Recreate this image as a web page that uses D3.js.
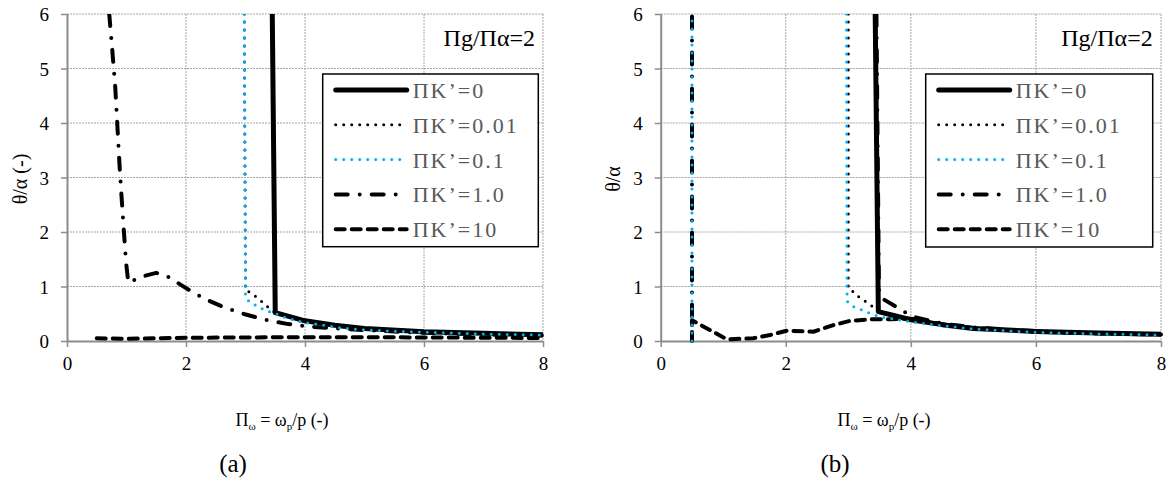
<!DOCTYPE html>
<html><head><meta charset="utf-8">
<script src="https://cdn.jsdelivr.net/npm/d3@7"></script>
<style>body{margin:0;background:#fff}svg{display:block}</style>
</head><body><svg id="c" width="1176" height="483" font-family="'Liberation Serif','Times New Roman',Times,serif"></svg>
<script>
// ---- data ----
const xTicks = [0, 2, 4, 6, 8];
const yTicks = [0, 1, 2, 3, 4, 5, 6];
const seriesNames = ["ΠK’=0", "ΠK’=0.01", "ΠK’=0.1", "ΠK’=1.0", "ΠK’=10"];
const panelLabels = ["(a)", "(b)"];
const yTitles = ["θ/α (-)", "θ/α"];
const annotation = "Πg/Πα=2";
// null y = break in the line
// panel (a)
const aK0   = [[3.45,6],[3.5,0.52],[4,0.37],[4.5,0.29],[5,0.23],[6,0.17],[7,0.14],[8,0.115]];
const aK001 = [[2.98,6],[3.0,0.93],[3.1,0.88],[3.2,0.79],[3.3,0.70],[3.41,0.59],[3.5,0.52],[4,0.36],[4.5,0.28],[5,0.22],[6,0.165],[7,0.135],[8,0.11]];
const aK01  = [[2.98,6],[3.0,0.79],[3.09,0.70],[3.2,0.64],[3.33,0.56],[3.46,0.52],[3.69,0.42],[3.97,0.34],[4.25,0.30],[4.59,0.24],[5.04,0.20],[5.48,0.18],[6.04,0.16],[6.89,0.13],[8,0.11]];
const aK1   = [[0.71,6],[0.76,5.35],[0.81,4.67],[0.85,3.88],[0.89,3.09],[0.94,2.27],[0.99,1.47],[1.03,1.07],[1.25,1.18],[1.5,1.25],[1.68,1.19],[2.0,0.97],[2.32,0.77],[2.66,0.61],[2.99,0.49],[3.37,0.38],[3.72,0.31],[4.11,0.26],[5,0.2],[6,0.15],[7,0.12],[8,0.1]];
const aK10  = [[0.5,0.05],[1,0.04],[1.5,0.05],[2,0.06],[3,0.065],[4,0.07],[5,0.07],[6,0.065],[7,0.06],[8,0.055]];
// panel (b)
const bK0   = [[3.43,6],[3.48,0.54],[4,0.39],[4.5,0.3],[5,0.23],[6,0.175],[7,0.145],[8,0.125]];
const bK001 = [[3.0,6],[3.0,0.96],[3.11,0.88],[3.19,0.78],[3.3,0.71],[3.4,0.62],[3.48,0.54],[4,0.37],[4.5,0.29],[5,0.22],[6,0.17],[7,0.14],[8,0.12]];
const bK01  = [[0.5,0],[0.5,6],[2.97,null],[2.97,6],[2.98,0.73],[3.08,0.63],[3.22,0.57],[3.32,0.52],[3.48,0.45],[4,0.35],[4.5,0.28],[5,0.22],[6,0.16],[7,0.13],[8,0.11]];
const bK1   = [[0.5,0.45],[0.5,6],[3.45,null],[3.45,6],[3.49,0.9],[3.54,0.78],[3.78,0.62],[4.02,0.45],[4.5,0.32],[5,0.25],[6,0.18],[7,0.14],[8,0.12]];
const bK10  = [[0.5,0],[0.5,0.38],[0.79,0.2],[1.06,0.03],[1.48,0.05],[1.75,0.11],[2.02,0.19],[2.44,0.17],[2.76,0.29],[3.03,0.37],[3.4,0.4],[3.7,0.4],[4.0,0.41],[4.5,0.31],[5,0.24],[6,0.17],[7,0.14],[8,0.12]];

// ---- styles ----
const FONT = "'Liberation Serif','Times New Roman',Times,serif";
const styles = [
  {stroke:"#000", width:5, dash:null, cap:"butt"},
  {stroke:"#000", width:3, dash:"0 8", cap:"round"},
  {stroke:"#00B0F0", width:3, dash:"0 8", cap:"round"},
  {stroke:"#000", width:4, dash:"12 12 0 12", cap:"round"},
  {stroke:"#000", width:4, dash:"9 7", cap:"round"}
];

const panels = [
  {x0:67, x1:543, series:[aK0,aK001,aK01,aK1,aK10], legend:{x:322.7,y:74,w:215.6,h:172.7}, ann:535, ytx:20, ylab:0, lab:233},
  {x0:660.7, x1:1161, series:[bK0,bK001,bK01,bK1,bK10], legend:{x:925.7,y:74,w:227,h:173}, ann:1152.7, ytx:613, ylab:1, lab:835}
];
const yTop = 14, yBot = 341;
const svg = d3.select("#c");

panels.forEach((p, pi) => {
  const x = d3.scaleLinear().domain([0,8]).range([p.x0, p.x1]);
  const y = d3.scaleLinear().domain([0,6]).range([yBot, yTop]);
  const g = svg.append("g");
  // grid
  g.selectAll(".gy").data(yTicks.filter(t => t > 0)).join("line")
    .attr("x1", p.x0).attr("x2", p.x1).attr("y1", d => y(d)).attr("y2", d => y(d))
    .attr("stroke", "#a6a6a6").attr("stroke-width", 1).attr("stroke-dasharray", "2 1");
  g.selectAll(".gx").data(xTicks.filter(t => t > 0)).join("line")
    .attr("x1", d => x(d)).attr("x2", d => x(d)).attr("y1", yTop).attr("y2", yBot)
    .attr("stroke", "#a6a6a6").attr("stroke-width", 1).attr("stroke-dasharray", "2 1");
  // axes
  const ax = g.append("g").attr("transform", `translate(0,${yBot})`)
    .call(d3.axisBottom(x).tickValues(xTicks).tickSize(6).tickPadding(9).tickFormat(d3.format("d")));
  const ay = g.append("g").attr("transform", `translate(${p.x0},0)`)
    .call(d3.axisLeft(y).tickValues(yTicks).tickSize(6).tickPadding(12).tickFormat(d3.format("d")));
  [ax, ay].forEach(a => {
    a.attr("font-family", FONT).attr("font-size", 19);
    a.select(".domain").attr("stroke", "#8c8c8c").attr("stroke-width", 2);
    a.selectAll(".tick line").attr("stroke", "#8c8c8c").attr("stroke-width", 1.5);
    a.selectAll(".tick text").attr("fill", "#000");
  });
  ay.select(".domain").attr("d", `M0.5,${yTop}V${yBot}`);
  ax.select(".domain").attr("d", `M${p.x0},0.5H${p.x1}`);
  ax.selectAll(".tick text").attr("dy", "0.75em");
  ay.selectAll(".tick text").attr("dy", "0.35em");

  // clip
  const cid = "clip" + pi;
  svg.append("clipPath").attr("id", cid).append("rect")
    .attr("x", p.x0 - 5).attr("y", yTop).attr("width", p.x1 - p.x0 + 10).attr("height", yBot - yTop + 5);
  const line = d3.line().defined(d => d[1] != null).x(d => x(d[0])).y(d => y(d[1]));
  const order = [4, 3, 0, 1, 2];
  order.forEach(si => {
    const s = styles[si];
    g.append("path").datum(p.series[si]).attr("clip-path", `url(#${cid})`)
      .attr("d", line).attr("fill", "none").attr("stroke", s.stroke)
      .attr("stroke-width", s.width).attr("stroke-linecap", s.cap).attr("stroke-linejoin", "round")
      .attr("stroke-dasharray", s.dash);
  });

  // annotation
  g.append("text").attr("x", p.ann).attr("y", 46).attr("text-anchor", "end")
    .attr("font-family", FONT).attr("font-size", 24).text(annotation);

  // legend
  const L = p.legend;
  g.append("rect").attr("x", L.x).attr("y", L.y).attr("width", L.w).attr("height", L.h)
    .attr("fill", "#fff").attr("stroke", "#000").attr("stroke-width", 1.5);
  seriesNames.forEach((name, i) => {
    const ry = L.y + 16 + i * 34.8;
    const s = styles[i];
    g.append("line").attr("x1", L.x + 13).attr("x2", L.x + 84).attr("y1", ry).attr("y2", ry)
      .attr("stroke", s.stroke).attr("stroke-width", s.width).attr("stroke-linecap", i === 0 ? "round" : s.cap)
      .attr("stroke-dasharray", s.dash);
    g.append("text").attr("x", L.x + 90).attr("y", ry + 8)
      .attr("fill", "#595959").attr("font-family", FONT).attr("font-size", 22)
      .style("letter-spacing", "2px").text(name);
  });

  // y title
  g.append("text").attr("transform", `translate(${p.ytx},179) rotate(-90)`)
    .attr("text-anchor", "middle").attr("dy", "0.35em")
    .attr("font-family", FONT).attr("font-size", 20).text(yTitles[p.ylab]);

  // x title
  const xt = g.append("text").attr("x", p.lab + 49).attr("y", 426)
    .attr("text-anchor", "middle").attr("font-family", FONT).attr("font-size", 18);
  xt.append("tspan").text("Π");
  xt.append("tspan").attr("dy", 4).attr("font-size", 11).text("ω");
  xt.append("tspan").attr("dy", -4).text(" = ω");
  xt.append("tspan").attr("dy", 4).attr("font-size", 11).text("p");
  xt.append("tspan").attr("dy", -4).text("/p (-)");

  // panel label
  g.append("text").attr("x", p.lab).attr("y", 472)
    .attr("text-anchor", "middle").attr("font-family", FONT).attr("font-size", 25).text(panelLabels[pi]);
});
</script></body></html>
